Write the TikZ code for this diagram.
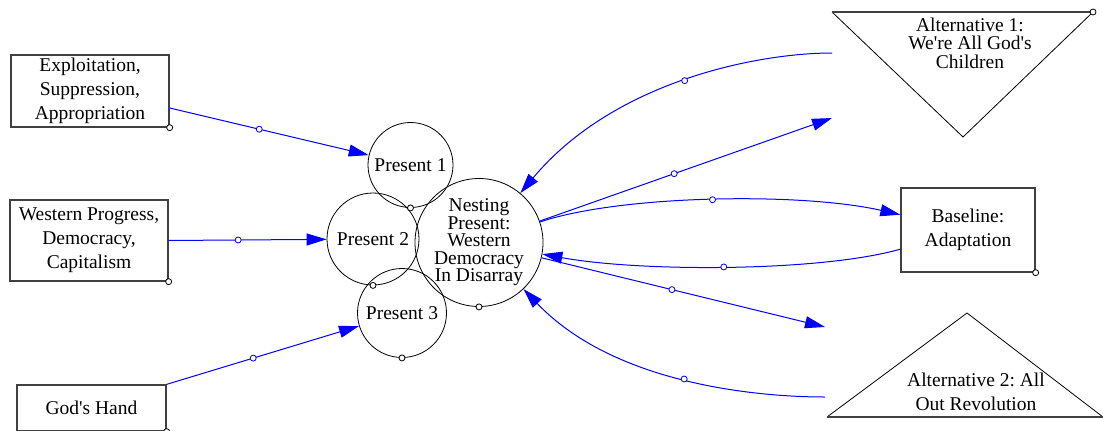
\documentclass[tikz,border=0pt]{standalone}
\usepackage{fontspec}
\setmainfont{Liberation Serif}
\usetikzlibrary{arrows.meta}
\frenchspacing

\tikzset{
  lbl/.style={font=\fontsize{19.5}{24}\selectfont, align=center},
  tight/.style={font=\fontsize{19.5}{17.5}\selectfont, align=center},
  boxnode/.style={draw=black!75, line width=1.3pt, inner sep=0pt, lbl},
  ring/.style={circle, draw=black, line width=0.8pt, inner sep=0pt, lbl},
  link/.style={draw=blue, line width=1pt, -{Triangle[length=20pt,width=12pt]}},
  knob/.style={circle, draw=blue, fill=white, line width=0.8pt, inner sep=0pt, minimum size=6pt},
  corner/.style={circle, draw=black, fill=white, line width=0.8pt, inner sep=0pt, minimum size=6pt},
  edge/.style={draw=black, line width=0.8pt},
  rim/.style={draw=black!75, line width=1.4pt},
}

\begin{document}
\begin{tikzpicture}[x=1pt, y=-1pt]
\useasboundingbox (0,0) rectangle (1103,431);

% driving stocks on the left
\node[boxnode, minimum width=158pt, minimum height=72pt] (box1) at (90,91)
  {Exploitation,\\Suppression,\\Appropriation};
\node[boxnode, minimum width=158pt, minimum height=81pt] (box2) at (89,240.5)
  {Western Progress,\\Democracy,\\Capitalism};
\node[boxnode, minimum width=149pt, minimum height=46pt] (box3) at (91.5,408)
  {God\textquotesingle s Hand};

% present states
\node[ring, minimum size=85pt] (p1) at (410.5,165) {Present 1};
\node[ring, minimum size=92pt] (p2) at (373,239) {Present 2};
\node[ring, minimum size=89pt] (p3) at (402,313) {Present 3};
\node[ring, minimum size=128pt, tight] (nest) at (479,242.5)
  {Nesting\\Present:\\Western\\Democracy\\In Disarray};

% future scenarios on the right
\draw[edge] (832,12) -- (963,137) -- (1093,12);
\draw[rim] (832,12) -- (1093,12);
\node[tight, font=\fontsize{19.5}{18.5}\selectfont] (alt1) at (970,43)
  {Alternative 1:\\We\textquotesingle re All God\textquotesingle s\\Children};

\node[boxnode, minimum width=134pt, minimum height=84pt] (base) at (968,230)
  {Baseline:\\Adaptation};

\draw[edge] (827,417) -- (967,313) -- (1103,417);
\draw[rim] (827,417) -- (1103,417);
\node[lbl] (alt2) at (976,392) {Alternative 2: All\\Out Revolution};

% free ends of the outer links
\coordinate (a1out) at (832,53);
\coordinate (a1in)  at (832,118);
\coordinate (a2in)  at (825,327);
\coordinate (a2out) at (825,397);

% links into the present states
\draw[link] ([yshift=-17pt]box1.east) -- (p1) node[knob, pos=.45] (k1) {};
\draw[link] (box2.east) -- (p2) node[knob, pos=.44] (k2) {};
\draw[link] (box3.north east) -- (p3) node[knob, pos=.45] (k3) {};

% links between the nesting present and the scenarios
\draw[link] (a1out) .. controls (760,53) and (615,80) .. (nest)
  node[knob, pos=.5] (k4) {};
\draw[link] (nest) -- (a1in) node[knob, pos=.46] (k5) {};
\draw[link] (nest) .. controls (620,195) and (800,192) .. (base)
  node[knob, pos=.5] (k6) {};
\draw[link] (base) .. controls (820,272) and (640,272) .. (nest)
  node[knob, pos=.51] (k7) {};
\draw[link] (nest) -- (a2in) node[knob, pos=.46] (k8) {};
\draw[link] (a2out) .. controls (760,397) and (615,385) .. (nest)
  node[knob, pos=.5] (k9) {};

% corner handles
\node[corner] (h1) at (box1.south east) {};
\node[corner] (h2) at (box2.south east) {};
\node[corner] (h3) at (box3.south east) {};
\node[corner] (h4) at (base.south east) {};
\node[corner] (h5) at (1093,12) {};
\node[corner] (h6) at (p1.south) {};
\node[corner] (h7) at (p2.south) {};
\node[corner] (h8) at (p3.south) {};
\node[corner] (h9) at (nest.south) {};
\end{tikzpicture}
\end{document}
